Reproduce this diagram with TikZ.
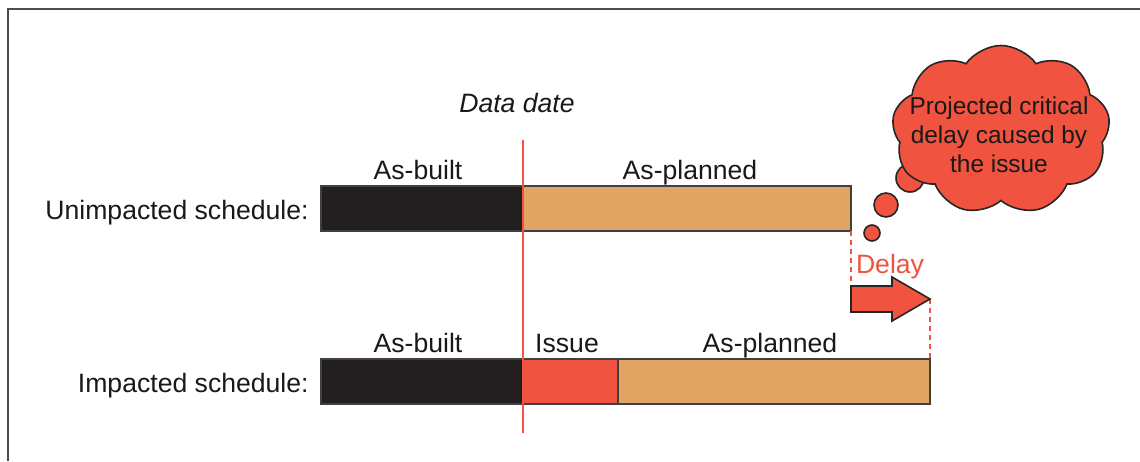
\documentclass[tikz,border=0pt]{standalone}
\usepackage{fontspec}
\setmainfont{Liberation Sans}
\usetikzlibrary{shapes.symbols,positioning}
\definecolor{issuered}{RGB}{240,83,63}
\definecolor{plancol}{RGB}{226,164,98}
\definecolor{builtcol}{RGB}{35,31,32}
\tikzset{
  bar/.style={draw=black!75, line width=0.6pt, minimum height=22.5pt, inner sep=0pt, outer sep=0pt, anchor=north west},
  lbl/.style={font=\fontsize{13.3}{16}\selectfont, inner sep=0pt, text=black!90},
  bubble/.style={circle, draw=black!85, fill=issuered, line width=0.8pt, inner sep=0pt},
  delayline/.style={issuered, dashed, dash pattern=on 2.5pt off 2pt, line width=0.8pt},
}
\begin{document}
\begin{tikzpicture}[x=0.5pt,y=-0.5pt]
  \useasboundingbox (0,0) rectangle (1140,461);
  % frame
  \draw[black!70, line width=1pt] (8,461) -- (8,9) -- (1140,9);

  % unimpacted schedule
  \node[bar, fill=builtcol, minimum width=101pt] (ubuilt) at (321,186) {};
  \node[bar, fill=plancol, minimum width=164pt] (uplan) at (ubuilt.north east) {};
  \node[lbl, anchor=base] (ubuiltlbl) at ([xshift=-2pt, yshift=3.5pt]ubuilt.north) {As-built};
  \node[lbl, anchor=base] (uplanlbl) at ([xshift=1.5pt, yshift=3.5pt]uplan.north) {As-planned};
  \node[lbl, anchor=base east] (ulbl) at ([xshift=-6pt, yshift=-5.25pt]ubuilt.west) {Unimpacted schedule:};

  % impacted schedule
  \node[bar, fill=builtcol, minimum width=101pt] (ibuilt) at (321,359) {};
  \node[bar, fill=issuered, minimum width=47.5pt] (iissue) at (ibuilt.north east) {};
  \node[bar, fill=plancol, minimum width=156pt] (iplan) at (iissue.north east) {};
  \node[lbl, anchor=base] (ibuiltlbl) at ([xshift=-2pt, yshift=3.5pt]ibuilt.north) {As-built};
  \node[lbl, anchor=base] (iissuelbl) at ([xshift=-1.75pt, yshift=3.5pt]iissue.north) {Issue};
  \node[lbl, anchor=base] (iplanlbl) at ([xshift=-2pt, yshift=3.5pt]iplan.north) {As-planned};
  \node[lbl, anchor=base east] (ilbl) at ([xshift=-6pt, yshift=-5.25pt]ibuilt.west) {Impacted schedule:};

  % data date
  \coordinate (ddtop) at (523,140);
  \coordinate (ddbot) at (523,433);
  \draw[issuered, line width=0.8pt] (ddtop) -- (ddbot);
  \node[lbl, font=\fontsize{13.3}{16}\selectfont\itshape, anchor=base] (ddlbl) at (517,112) {Data date};

  % delay arrow
  \coordinate (atail) at (851,290);
  \coordinate (tip) at (930,299);
  \draw[delayline] (uplan.south east) -- (atail);
  \draw[delayline] (tip) -- (iplan.north east);
  \draw[draw=black!85, fill=issuered, line width=0.8pt, line join=miter]
    (851,286) -- (892,286) -- (892,277) -- (tip) -- (892,321) -- (892,312) -- (851,312) -- cycle;
  \node[lbl, text=issuered, anchor=base] (delaylbl) at (890,273) {Delay};

  % thought cloud
  \node[bubble, minimum size=8pt] (bubblec) at (872,233) {};
  \node[bubble, minimum size=12pt] (bubbleb) at (886,205) {};
  \node[bubble, minimum size=14pt] (bubblea) at (910,178) {};
  \node[cloud, cloud puffs=9, cloud puff arc=110, cloud ignores aspect, draw=black!85,
        fill=issuered, line width=0.8pt, inner sep=0pt,
        minimum width=109pt, minimum height=84.5pt] (thought) at (1001,130) {};
  \node[lbl, font=\fontsize{12.2}{14.5}\selectfont, align=center] (thoughtlbl) at (999,135)
    {Projected critical\\delay caused by\\the issue};
\end{tikzpicture}
\end{document}
